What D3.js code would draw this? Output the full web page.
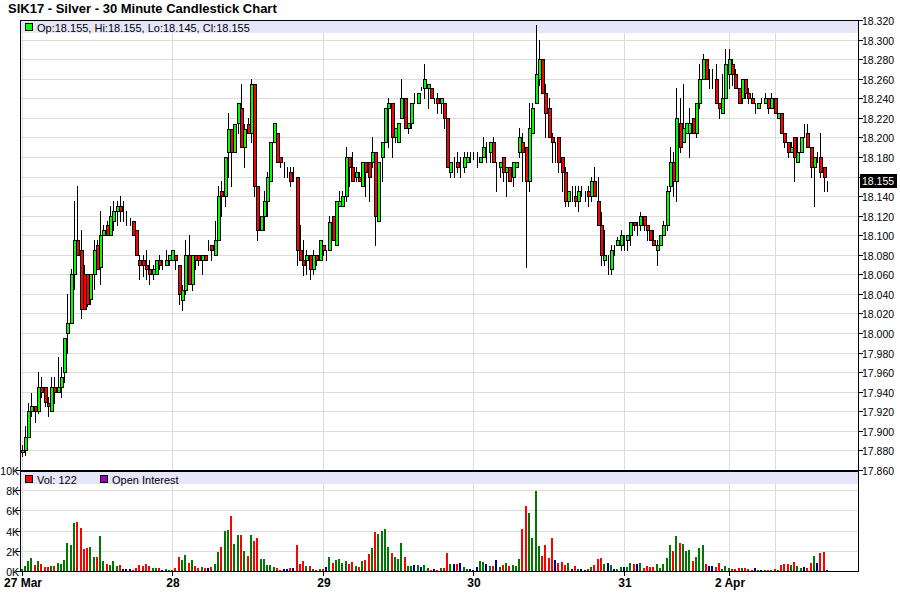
<!DOCTYPE html>
<html><head><meta charset="utf-8">
<script src="https://cdn.jsdelivr.net/npm/d3@7"></script>
<style>
html,body{margin:0;padding:0;background:#fff;}
svg{display:block;font-family:"Liberation Sans",Arial,sans-serif;}
</style></head>
<body><svg id="c" width="900" height="612"></svg>
<script>
const title = "SIK17 - Silver - 30 Minute Candlestick Chart";
const dayLabels = ["27 Mar","28","29","30","31","2 Apr"];
const dayIndex = [0,46,92,138,184,216];
const extraGridIndex = [230];
const priceTicks = d3.range(0,24).map(i => +(17.86 + i*0.02).toFixed(3));
const volTicks = [0,2000,4000,6000,8000,10000];
const volTickLabels = ["0K","2K","4K","6K","8K","10K"];

const open = [17.878,17.880,17.894,17.920,17.925,17.920,17.945,17.945,17.929,17.920,
17.945,17.940,17.945,17.960,18.000,18.010,18.060,18.095,18.085,18.060,
18.060,18.035,18.060,18.090,18.068,18.100,18.110,18.100,18.115,18.125,
18.130,18.125,18.120,18.115,18.115,18.105,18.075,18.075,18.070,18.065,
18.060,18.060,18.075,18.070,18.070,18.075,18.075,18.080,18.070,18.034,
18.044,18.080,18.050,18.080,18.080,18.075,18.080,18.085,18.090,18.080,
18.095,18.145,18.140,18.185,18.209,18.185,18.215,18.230,18.190,18.214,
18.205,18.255,18.150,18.105,18.120,18.135,18.155,18.195,18.205,18.180,
18.170,18.165,18.165,18.160,18.160,18.085,18.075,18.075,18.080,18.065,
18.080,18.075,18.090,18.085,18.085,18.120,18.090,18.130,18.130,18.140,
18.180,18.170,18.160,18.160,18.150,18.175,18.175,18.175,18.185,18.115,
18.180,18.195,18.230,18.235,18.200,18.195,18.220,18.240,18.210,18.215,
18.235,18.235,18.250,18.250,18.250,18.250,18.240,18.240,18.235,18.235,
18.220,18.165,18.170,18.175,18.170,18.170,18.175,18.180,18.180,18.180,
18.175,18.180,18.185,18.185,18.195,18.175,18.170,18.180,18.165,18.170,
18.160,18.170,18.185,18.195,18.190,18.155,18.205,18.235,18.260,18.280,
18.245,18.230,18.200,18.195,18.200,18.180,18.165,18.135,18.140,18.140,
18.135,18.140,18.140,18.145,18.140,18.155,18.135,18.110,18.075,18.075,
18.065,18.085,18.090,18.090,18.100,18.095,18.100,18.114,18.110,18.110,
18.120,18.110,18.105,18.095,18.085,18.090,18.100,18.110,18.150,18.175,
18.155,18.215,18.195,18.205,18.205,18.220,18.205,18.235,18.260,18.280,
18.260,18.260,18.260,18.235,18.225,18.240,18.265,18.275,18.265,18.250,
18.240,18.260,18.245,18.240,18.235,18.230,18.235,18.235,18.240,18.230,
18.240,18.220,18.225,18.205,18.195,18.185,18.200,18.175,18.185,18.205,
18.205,18.190,18.170,18.180,18.180,18.170,18.155];
const high = [17.886,17.905,17.929,17.939,17.925,17.960,17.955,17.945,17.935,17.955,
17.955,17.976,17.965,17.995,18.040,18.065,18.135,18.150,18.105,18.070,
18.060,18.060,18.095,18.095,18.125,18.110,18.115,18.130,18.135,18.135,
18.140,18.135,18.125,18.118,18.115,18.105,18.080,18.080,18.085,18.075,
18.070,18.075,18.080,18.075,18.085,18.080,18.085,18.080,18.070,18.049,
18.095,18.100,18.080,18.080,18.080,18.080,18.080,18.095,18.090,18.115,
18.150,18.155,18.180,18.225,18.209,18.214,18.235,18.255,18.214,18.220,
18.260,18.255,18.150,18.120,18.145,18.165,18.195,18.215,18.205,18.180,
18.175,18.170,18.170,18.170,18.160,18.110,18.095,18.085,18.080,18.085,
18.080,18.095,18.090,18.085,18.120,18.120,18.135,18.145,18.145,18.190,
18.180,18.185,18.170,18.165,18.175,18.175,18.175,18.200,18.185,18.175,
18.195,18.230,18.240,18.235,18.210,18.215,18.260,18.240,18.215,18.235,
18.245,18.245,18.252,18.275,18.255,18.250,18.240,18.245,18.240,18.235,
18.220,18.175,18.180,18.185,18.180,18.185,18.185,18.185,18.185,18.185,
18.180,18.200,18.195,18.195,18.200,18.175,18.175,18.180,18.170,18.170,
18.175,18.175,18.210,18.205,18.190,18.235,18.235,18.315,18.300,18.280,
18.255,18.240,18.205,18.195,18.200,18.180,18.170,18.145,18.150,18.150,
18.150,18.150,18.145,18.150,18.160,18.170,18.160,18.124,18.105,18.080,
18.090,18.090,18.098,18.105,18.100,18.100,18.114,18.114,18.114,18.124,
18.120,18.110,18.105,18.105,18.095,18.100,18.115,18.150,18.190,18.185,
18.250,18.240,18.255,18.215,18.230,18.220,18.235,18.275,18.285,18.280,
18.270,18.270,18.275,18.235,18.265,18.290,18.290,18.280,18.270,18.250,
18.260,18.260,18.250,18.245,18.235,18.235,18.240,18.245,18.240,18.245,
18.240,18.225,18.225,18.205,18.195,18.195,18.200,18.200,18.200,18.214,
18.214,18.190,18.180,18.185,18.205,18.170,18.155];
const low = [17.874,17.875,17.894,17.915,17.909,17.918,17.935,17.925,17.915,17.920,
17.929,17.940,17.935,17.950,17.980,18.010,18.045,18.080,18.015,18.025,
18.028,18.030,18.045,18.065,18.050,18.100,18.100,18.100,18.105,18.110,
18.115,18.115,18.110,18.110,18.100,18.080,18.055,18.058,18.055,18.050,
18.055,18.060,18.065,18.065,18.070,18.070,18.075,18.065,18.030,18.024,
18.040,18.050,18.044,18.065,18.070,18.060,18.075,18.085,18.075,18.080,
18.095,18.120,18.130,18.160,18.150,18.185,18.205,18.190,18.170,18.205,
18.195,18.140,18.095,18.105,18.105,18.120,18.155,18.195,18.175,18.170,
18.160,18.160,18.150,18.155,18.070,18.075,18.059,18.060,18.055,18.060,
18.070,18.075,18.080,18.075,18.085,18.095,18.090,18.130,18.130,18.135,
18.150,18.155,18.155,18.155,18.150,18.140,18.135,18.170,18.090,18.115,
18.155,18.195,18.190,18.180,18.195,18.195,18.220,18.210,18.205,18.210,
18.235,18.235,18.248,18.240,18.230,18.240,18.235,18.225,18.225,18.210,
18.170,18.160,18.160,18.165,18.160,18.165,18.175,18.175,18.178,18.170,
18.175,18.180,18.175,18.175,18.175,18.145,18.160,18.155,18.140,18.155,
18.150,18.170,18.180,18.155,18.068,18.145,18.205,18.235,18.254,18.245,
18.200,18.200,18.175,18.175,18.165,18.145,18.130,18.130,18.135,18.130,
18.125,18.140,18.135,18.130,18.135,18.140,18.110,18.070,18.070,18.060,
18.060,18.080,18.090,18.085,18.085,18.085,18.090,18.105,18.100,18.105,
18.105,18.095,18.095,18.090,18.070,18.090,18.100,18.105,18.145,18.140,
18.135,18.185,18.195,18.205,18.180,18.205,18.200,18.230,18.260,18.260,
18.250,18.250,18.235,18.220,18.225,18.240,18.250,18.254,18.250,18.235,
18.235,18.240,18.235,18.235,18.225,18.230,18.235,18.235,18.225,18.230,
18.225,18.220,18.205,18.190,18.180,18.185,18.155,18.175,18.185,18.200,
18.190,18.160,18.130,18.175,18.160,18.145,18.145];
const close = [17.880,17.894,17.920,17.925,17.920,17.945,17.940,17.930,17.925,17.945,
17.940,17.945,17.955,17.995,18.010,18.060,18.095,18.080,18.025,18.025,
18.030,18.060,18.085,18.065,18.100,18.105,18.100,18.120,18.125,18.130,
18.125,18.125,18.120,18.115,18.100,18.080,18.070,18.070,18.065,18.060,
18.065,18.075,18.070,18.070,18.075,18.080,18.085,18.075,18.040,18.044,
18.080,18.050,18.080,18.075,18.075,18.080,18.075,18.085,18.085,18.095,
18.140,18.140,18.180,18.209,18.185,18.214,18.235,18.190,18.209,18.205,
18.255,18.150,18.105,18.120,18.135,18.160,18.195,18.215,18.175,18.175,
18.170,18.165,18.155,18.160,18.085,18.075,18.070,18.080,18.065,18.080,
18.075,18.095,18.085,18.085,18.114,18.095,18.135,18.135,18.140,18.180,
18.170,18.155,18.165,18.155,18.175,18.165,18.160,18.185,18.120,18.175,
18.195,18.230,18.235,18.200,18.210,18.215,18.240,18.210,18.215,18.235,
18.235,18.245,18.250,18.260,18.255,18.240,18.240,18.235,18.240,18.220,
18.170,18.175,18.170,18.170,18.170,18.180,18.180,18.180,18.180,18.180,
18.180,18.190,18.185,18.195,18.175,18.175,18.175,18.165,18.170,18.155,
18.175,18.175,18.200,18.185,18.155,18.210,18.230,18.265,18.280,18.245,
18.225,18.200,18.195,18.195,18.175,18.165,18.135,18.145,18.140,18.135,
18.145,18.140,18.140,18.140,18.155,18.140,18.110,18.080,18.080,18.075,
18.085,18.085,18.095,18.100,18.100,18.100,18.114,18.110,18.110,18.120,
18.110,18.105,18.095,18.090,18.090,18.100,18.110,18.145,18.175,18.155,
18.220,18.190,18.210,18.215,18.215,18.205,18.235,18.260,18.280,18.260,
18.260,18.260,18.235,18.230,18.240,18.275,18.280,18.265,18.250,18.235,
18.260,18.245,18.240,18.235,18.235,18.235,18.235,18.240,18.230,18.240,
18.225,18.225,18.205,18.195,18.185,18.190,18.180,18.185,18.200,18.205,
18.190,18.170,18.180,18.180,18.165,18.160,18.155];
const volume = [200,470,1000,1270,570,1000,670,370,370,470,
470,770,670,1070,2800,2530,4800,4870,4270,2170,
2270,2370,1370,1370,3470,1000,670,570,1000,470,
570,170,170,170,100,270,570,470,670,470,
270,270,270,100,170,100,100,270,1370,1070,
1570,770,1100,470,270,370,270,270,370,670,
1900,2370,4000,4070,5470,2670,3570,3570,2000,1470,
3570,2970,3270,1170,1170,570,570,370,270,100,
170,170,270,270,2570,670,970,470,470,170,
100,170,170,370,1370,770,1070,1170,770,970,
670,870,470,370,970,1070,1670,2270,3870,3670,
3970,4170,2370,1770,1370,1170,2770,1370,470,470,
570,570,370,570,270,100,170,100,270,270,
1770,670,670,670,770,370,170,170,100,370,
970,870,670,470,470,1070,370,570,770,470,
570,470,1170,4170,6470,5770,3270,7970,2470,1470,
2570,1270,3270,1070,770,870,570,770,170,470,
170,170,70,170,370,570,1170,1270,670,770,
570,170,170,370,370,370,770,670,670,770,
270,470,370,370,670,270,670,1270,2570,1970,
3470,2770,2670,1970,2070,970,1370,2270,2570,670,
470,470,370,770,170,470,270,170,170,270,
270,270,170,100,270,100,100,100,100,100,
170,100,570,670,670,570,870,470,270,370,
270,770,1470,770,1770,1870,122];

const n = close.length;
const idx = d3.range(n);
const svg = d3.select("#c");
const L = 20, R = 858, PT = 20, PB = 470, VT = 470, VB = 571;
const x = d3.scaleLinear().domain([0,256]).range([L,R]);
const y = d3.scaleLinear().domain([17.86,18.32]).range([PB,PT]);
const yv = d3.scaleLinear().domain([0,10000]).range([VB,VT]);
const cx = i => Math.round(x(i+0.5));
const GRID = "#dcdcdc";
const f3 = d3.format(".3f");

// title
svg.append("text").attr("x",8).attr("y",13).attr("font-size",13).attr("font-weight","bold").text(title);

// grids
const g = svg.append("g").attr("shape-rendering","crispEdges");
priceTicks.forEach(p => g.append("line").attr("x1",L).attr("x2",R).attr("y1",Math.round(y(p))+0.5).attr("y2",Math.round(y(p))+0.5).attr("stroke",GRID));
volTicks.forEach(v => g.append("line").attr("x1",L).attr("x2",R).attr("y1",Math.round(yv(v))+0.5).attr("y2",Math.round(yv(v))+0.5).attr("stroke",GRID));
dayIndex.concat(extraGridIndex).forEach(i => {
  g.append("line").attr("x1",cx(i)+0.5).attr("x2",cx(i)+0.5).attr("y1",PT).attr("y2",PB).attr("stroke",GRID);
  g.append("line").attr("x1",cx(i)+0.5).attr("x2",cx(i)+0.5).attr("y1",VT).attr("y2",VB).attr("stroke",GRID);
});

// legend bands
g.append("rect").attr("x",L+1).attr("y",PT+1).attr("width",R-L-1).attr("height",12).attr("fill","#e6e6fa");
g.append("rect").attr("x",L+1).attr("y",VT+2).attr("width",R-L-1).attr("height",12).attr("fill","#e6e6fa");

// candles
const cg = svg.append("g").attr("shape-rendering","crispEdges");
idx.forEach(i => {
  const c = cx(i);
  cg.append("line").attr("x1",c+0.5).attr("x2",c+0.5)
    .attr("y1",Math.round(y(high[i]))).attr("y2",Math.round(y(low[i]))+1).attr("stroke","#000");
  const top = Math.round(y(Math.max(open[i],close[i])));
  const bot = Math.round(y(Math.min(open[i],close[i])));
  const col = close[i] > open[i] ? "#00ff00" : close[i] < open[i] ? "#ff0000" : "#000";
  cg.append("rect").attr("x",c-1+0.5).attr("y",top+0.5).attr("width",3).attr("height",Math.max(0,bot-top))
    .attr("fill",col).attr("stroke","#000").attr("stroke-width",1);
});

// volume bars
const vg = svg.append("g").attr("shape-rendering","crispEdges");
idx.forEach(i => {
  const col = close[i] > open[i] ? "#007700" : close[i] < open[i] ? "#ff0000" : "#000080";
  const top = Math.round(yv(volume[i]));
  vg.append("rect").attr("x",cx(i)-1).attr("y",top).attr("width",2).attr("height",VB-top).attr("fill",col);
});

// borders
const b = svg.append("g").attr("shape-rendering","crispEdges").attr("stroke","#000");
b.append("line").attr("x1",L).attr("x2",R+1).attr("y1",PT+0.5).attr("y2",PT+0.5);
b.append("line").attr("x1",L).attr("x2",R+1).attr("y1",PB+0.5).attr("y2",PB+0.5).attr("stroke-width",2);
b.append("line").attr("x1",L).attr("x2",R+1).attr("y1",VB+0.5).attr("y2",VB+0.5);
b.append("line").attr("x1",L+0.5).attr("x2",L+0.5).attr("y1",PT).attr("y2",VB+1);
b.append("line").attr("x1",R+0.5).attr("x2",R+0.5).attr("y1",PT).attr("y2",VB+1);

// price axis (right)
const last = close[n-1];
const pa = svg.append("g").attr("font-size",10.5);
priceTicks.forEach(p => {
  const yy = Math.round(y(p))+0.5;
  pa.append("line").attr("x1",R).attr("x2",R+5).attr("y1",yy).attr("y2",yy).attr("stroke","#000").attr("shape-rendering","crispEdges");
  if (Math.abs(y(p) - y(last)) < 11) return;
  pa.append("text").attr("x",R+4).attr("y",yy+4).text(f3(p));
});
const ly = Math.round(y(last));
pa.append("rect").attr("x",R+2).attr("y",ly-7).attr("width",37).attr("height",14).attr("fill","#000");
pa.append("text").attr("x",R+4).attr("y",ly+4).attr("fill","#fff").text(f3(last));

// volume axis (left)
const va = svg.append("g").attr("font-size",10.5);
volTicks.forEach((v,k) => {
  const yy = Math.round(yv(v))+0.5;
  va.append("line").attr("x1",L-4).attr("x2",L).attr("y1",yy).attr("y2",yy).attr("stroke","#000").attr("shape-rendering","crispEdges");
  va.append("text").attr("x",L-1).attr("y",yy+4).attr("text-anchor","end").text(volTickLabels[k]);
});

// x axis
const xa = svg.append("g").attr("font-size",12).attr("font-weight","bold");
dayIndex.forEach((i,k) => {
  xa.append("line").attr("x1",cx(i)+0.5).attr("x2",cx(i)+0.5).attr("y1",VB).attr("y2",VB+5).attr("stroke","#000").attr("shape-rendering","crispEdges");
  xa.append("text").attr("x",cx(i)+1).attr("y",VB+16).attr("text-anchor","middle").text(dayLabels[k]);
});

// legends
const lg = svg.append("g").attr("font-size",11);
lg.append("rect").attr("x",25.5).attr("y",23.5).attr("width",7).attr("height",7).attr("fill","#00ff00").attr("stroke","#000").attr("shape-rendering","crispEdges");
lg.append("text").attr("x",37).attr("y",31.5)
  .text(`Op:${f3(open[n-1])}, Hi:${f3(high[n-1])}, Lo:${f3(low[n-1])}, Cl:${f3(close[n-1])}`);
lg.append("rect").attr("x",25.5).attr("y",475.5).attr("width",7).attr("height",7).attr("fill","#ff0000").attr("stroke","#000").attr("shape-rendering","crispEdges");
lg.append("text").attr("x",37).attr("y",483.5).text(`Vol: ${volume[n-1]}`);
lg.append("rect").attr("x",100.5).attr("y",475.5).attr("width",7).attr("height",7).attr("fill","#9900cc").attr("stroke","#000").attr("shape-rendering","crispEdges");
lg.append("text").attr("x",112).attr("y",483.5).text("Open Interest");
</script></body></html>
